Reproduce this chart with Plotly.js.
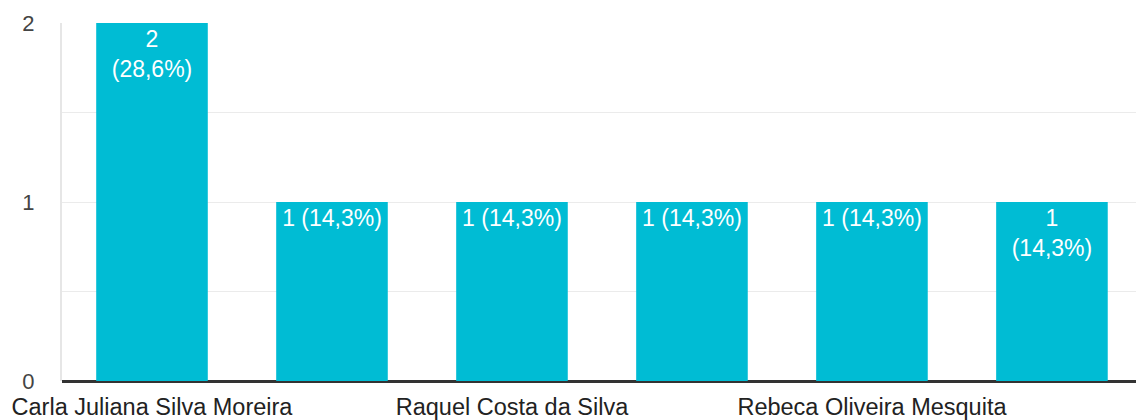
<!DOCTYPE html>
<html>
<head>
<meta charset="utf-8">
<script src="https://cdn.plot.ly/plotly-3.0.1.min.js"></script>
<style>html,body{margin:0;padding:0;background:#fff;}#chart{width:1136px;height:420px;}</style>
</head>
<body>
<div id="chart"></div>
<script>
// Data
const names = ["Carla Juliana Silva Moreira", "", "Raquel Costa da Silva", "", "Rebeca Oliveira Mesquita", ""];
const counts = [2, 1, 1, 1, 1, 1];
const percents = ["28,6%", "14,3%", "14,3%", "14,3%", "14,3%", "14,3%"];
const yTickVals = [0, 0.5, 1, 1.5, 2];
const yTickText = ["0", "", "1", "", "2"];

const xPos = names.map((n, i) => i);
const wrapped = [true, false, false, false, false, true];
const labels = counts.map((c, i) => c + (wrapped[i] ? "<br>" : " ") + "(" + percents[i] + ")");
const shownIdx = xPos.filter(i => names[i] !== "");

const trace = {
  type: "bar",
  x: xPos,
  y: counts,
  text: labels,
  textposition: "inside",
  insidetextanchor: "end",
  textangle: 0,
  insidetextfont: {family: "Liberation Sans, Arial, sans-serif", size: 23, color: "#ffffff"},
  marker: {color: "#00bcd4", line: {width: 0}},
  hoverinfo: "none"
};

const layout = {
  width: 1136, height: 420,
  margin: {l: 62, r: 0, t: 23, b: 39, pad: 0},
  paper_bgcolor: "#ffffff", plot_bgcolor: "#ffffff",
  bargap: 0.38,
  showlegend: false,
  font: {family: "Liberation Sans, Arial, sans-serif", color: "#333333"},
  xaxis: {
    range: [-0.5, 5.467],
    tickvals: shownIdx,
    ticktext: shownIdx.map(i => names[i]),
    tickfont: {size: 23.5, color: "#222222"},
    showgrid: false, zeroline: false, showline: false,
    ticks: "", ticklabelstandoff: 9, fixedrange: true
  },
  yaxis: {
    range: [0, 2],
    tickvals: yTickVals,
    ticktext: yTickText,
    tickfont: {size: 22, color: "#444444"},
    showgrid: true, gridcolor: "#ebebeb", gridwidth: 1,
    zeroline: true, zerolinecolor: "#333333", zerolinewidth: 3,
    showline: true, linecolor: "#e6e6e6", linewidth: 2,
    ticks: "", ticklabelstandoff: 21, fixedrange: true
  }
};

Plotly.newPlot("chart", [trace], layout, {displayModeBar: false, staticPlot: true});
</script>
</body>
</html>
